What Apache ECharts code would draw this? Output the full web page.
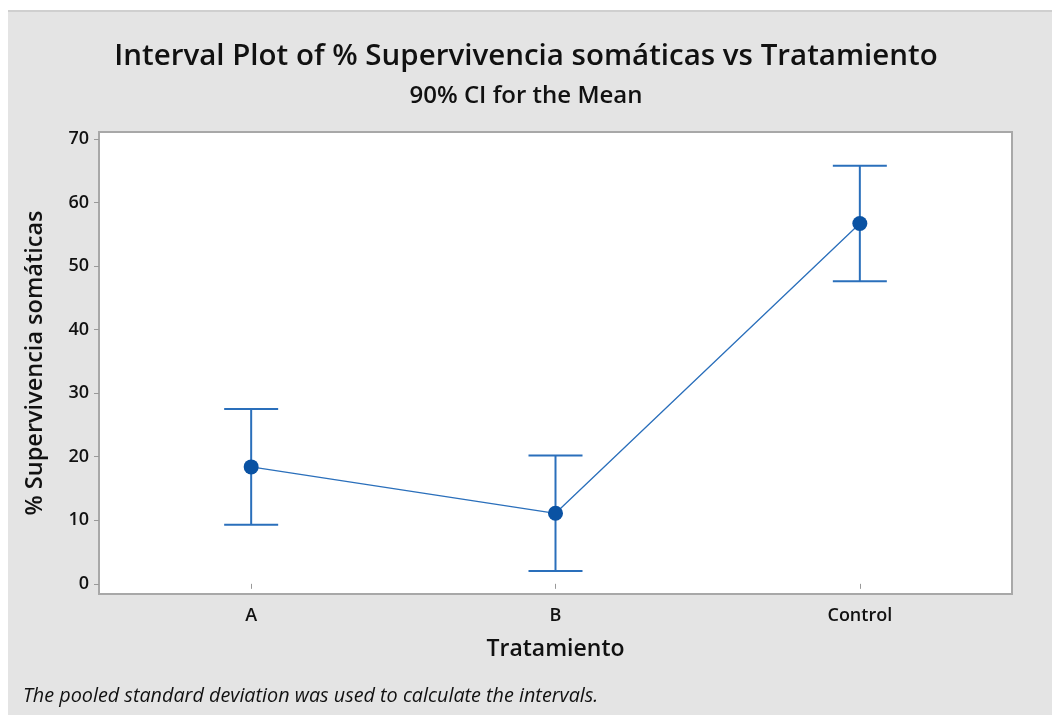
<!DOCTYPE html>
<html>
<head>
<meta charset="utf-8">
<script src="https://cdn.jsdelivr.net/npm/echarts@6/dist/echarts.min.js"></script>
<style>
  html, body { margin: 0; padding: 0; background: #fff; }
  .frame {
    position: absolute;
    left: 8px; top: 10px; right: 0; bottom: 0;
    background: #e4e4e4;
    border-top: 2px solid #cfcfcf;
  }
  #chart { position: absolute; left: 0; top: 0; width: 1052px; height: 715px; }
</style>
</head>
<body>
<div class="frame"></div>
<div id="chart"></div>
<script>
// data
const categories = ['A', 'B', 'Control']
const means = [18.4, 11.1, 56.7]
const lower = [9.3, 2.0, 47.6]
const upper = [27.5, 20.2, 65.8]
const yTicks = [0, 10, 20, 30, 40, 50, 60, 70]

const blue = '#2a6fbb'
const dark = '#0a52a3'
const font = '"Open Sans", sans-serif'

const chart = echarts.init(document.getElementById('chart'))

chart.setOption({
  backgroundColor: 'transparent',
  animation: false,
  title: [
    {
      text: 'Interval Plot of % Supervivencia somáticas vs Tratamiento',
      left: 'center', top: 37,
      textStyle: { fontFamily: font, fontSize: 29.5, fontWeight: 600, color: '#111' }
    },
    {
      text: '90% CI for the Mean',
      left: 'center', top: 79,
      textStyle: { fontFamily: font, fontSize: 24, fontWeight: 600, color: '#111' }
    },
    {
      text: 'The pooled standard deviation was used to calculate the intervals.',
      left: 18, top: 681,
      textStyle: { fontFamily: font, fontSize: 19.8, fontStyle: 'italic', fontWeight: 'normal', color: '#111' }
    }
  ],
  grid: {
    left: 99, right: 40, top: 132, bottom: 121,
    show: true, backgroundColor: '#fff', borderColor: '#a8a8a8', borderWidth: 2
  },
  xAxis: {
    type: 'category',
    data: categories,
    boundaryGap: true,
    name: 'Tratamiento',
    nameLocation: 'middle',
    nameGap: 44,
    nameTextStyle: { fontFamily: font, fontSize: 23, fontWeight: 600, color: '#111' },
    axisLine: { show: false },
    axisTick: { show: true, alignWithLabel: true, length: 5, lineStyle: { color: '#999' } },
    axisLabel: { fontFamily: font, fontSize: 18, fontWeight: 600, color: '#111', margin: 13 }
  },
  yAxis: {
    type: 'value',
    min: -1.6,
    max: 71.1,
    name: '% Supervivencia somáticas',
    nameLocation: 'middle',
    nameGap: 52,
    nameTextStyle: { fontFamily: font, fontSize: 23.5, fontWeight: 600, color: '#111' },
    splitLine: { show: false },
    axisLine: { show: false },
    axisTick: { show: true, length: 5, lineStyle: { color: '#999' }, customValues: yTicks },
    axisLabel: { fontFamily: font, fontSize: 18, fontWeight: 600, color: '#111', margin: 10, customValues: yTicks }
  },
  series: [
    {
      type: 'custom',
      data: categories.map((c, i) => [i, lower[i], upper[i]]),
      z: 2,
      renderItem: (params, api) => {
        const lo = api.coord([api.value(0), api.value(1)])
        const hi = api.coord([api.value(0), api.value(2)])
        const half = 27
        const style = { stroke: blue, lineWidth: 2 }
        return {
          type: 'group',
          children: [
            { type: 'line', shape: { x1: lo[0], y1: lo[1], x2: hi[0], y2: hi[1] }, style },
            { type: 'line', shape: { x1: lo[0] - half, y1: lo[1], x2: lo[0] + half, y2: lo[1] }, style },
            { type: 'line', shape: { x1: hi[0] - half, y1: hi[1], x2: hi[0] + half, y2: hi[1] }, style }
          ]
        }
      }
    },
    {
      type: 'line',
      data: means,
      z: 3,
      symbol: 'circle',
      symbolSize: 15,
      itemStyle: { color: dark },
      lineStyle: { color: blue, width: 1.3 }
    }
  ]
})
</script>
</body>
</html>
